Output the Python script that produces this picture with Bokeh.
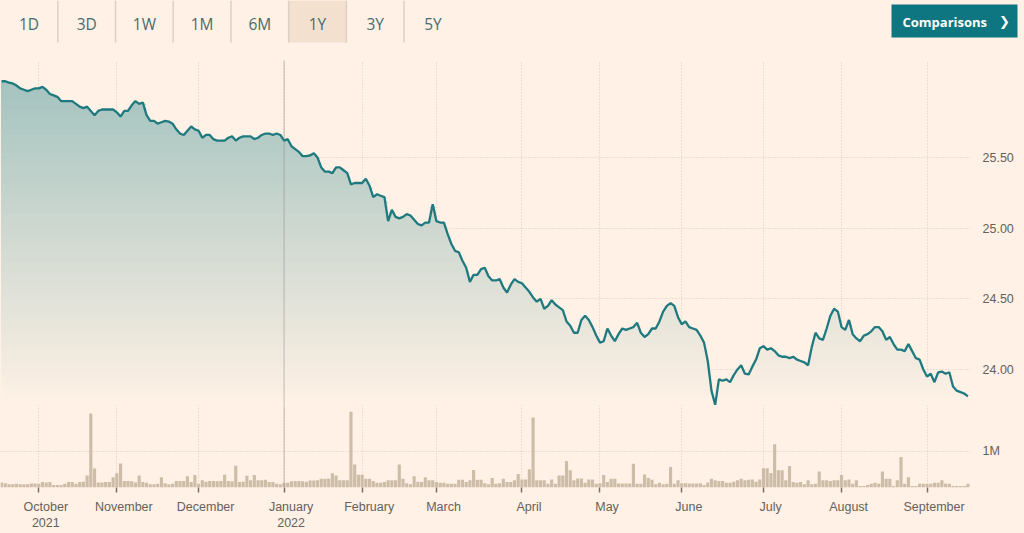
import numpy as np
import pandas as pd
from bokeh.plotting import figure
from bokeh.layouts import column
from bokeh.models import Range1d, FixedTicker, PrintfTickFormatter, Span
from bokeh.core.properties import value
from bokeh.embed import file_html
from bokeh.resources import INLINE

# ---------------- data ----------------
first_day = "2021-09-17"
last_day = "2022-09-16"
dates = pd.bdate_range(first_day, last_day)  # trading days (weekdays)

price = [
    26.04, 26.04, 26.03, 26.025, 26.01, 25.99, 25.98, 25.97, 25.98, 25.99,
    25.99, 26.00, 25.98, 25.95, 25.94, 25.93, 25.90, 25.90, 25.90, 25.90,
    25.88, 25.86, 25.85, 25.86, 25.83, 25.80, 25.83, 25.84, 25.84, 25.84,
    25.84, 25.82, 25.79, 25.83, 25.83, 25.87, 25.90, 25.88, 25.89, 25.80,
    25.76, 25.76, 25.74, 25.75, 25.76, 25.755, 25.74, 25.70, 25.67, 25.66,
    25.69, 25.72, 25.70, 25.69, 25.64, 25.66, 25.66, 25.63, 25.62, 25.62,
    25.62, 25.64, 25.65, 25.62, 25.64, 25.65, 25.65, 25.65, 25.63, 25.64,
    25.66, 25.67, 25.67, 25.66, 25.67, 25.66, 25.62, 25.63, 25.58, 25.56,
    25.54, 25.51, 25.51, 25.515, 25.53, 25.50, 25.43, 25.40, 25.40, 25.39,
    25.43, 25.43, 25.41, 25.39, 25.31, 25.32, 25.32, 25.32, 25.35, 25.30,
    25.22, 25.24, 25.23, 25.22, 25.05, 25.13, 25.08, 25.07, 25.08, 25.10,
    25.09, 25.06, 25.03, 25.02, 25.04, 25.04, 25.17, 25.05, 25.04, 25.04,
    24.96, 24.89, 24.84, 24.83, 24.77, 24.72, 24.62, 24.67, 24.67, 24.71,
    24.72, 24.66, 24.63, 24.63, 24.64, 24.58, 24.545, 24.60, 24.64, 24.62,
    24.61, 24.58, 24.55, 24.51, 24.48, 24.50, 24.43, 24.45, 24.49, 24.46,
    24.44, 24.42, 24.34, 24.31, 24.26, 24.26, 24.35, 24.38, 24.35, 24.30,
    24.24, 24.19, 24.20, 24.29, 24.24, 24.20, 24.25, 24.29, 24.28, 24.29,
    24.30, 24.33, 24.26, 24.23, 24.25, 24.29, 24.29, 24.34, 24.41, 24.45,
    24.47, 24.45, 24.37, 24.32, 24.34, 24.30, 24.29, 24.28, 24.24, 24.19,
    24.06, 23.85, 23.75, 23.93, 23.92, 23.93, 23.91, 23.96, 24.00, 24.03,
    23.97, 23.965, 24.02, 24.07, 24.15, 24.165, 24.14, 24.15, 24.13, 24.10,
    24.09, 24.09, 24.08, 24.09, 24.07, 24.06, 24.05, 24.03, 24.16, 24.26,
    24.22, 24.21, 24.29, 24.38, 24.43, 24.41, 24.30, 24.28, 24.35, 24.25,
    24.22, 24.20, 24.24, 24.25, 24.27, 24.30, 24.30, 24.27, 24.21, 24.23,
    24.18, 24.14, 24.14, 24.13, 24.18, 24.13, 24.08, 24.07, 24.00, 23.95,
    23.97, 23.91, 23.98, 23.985, 23.97, 23.98, 23.88, 23.85, 23.84, 23.83,
    23.81,
]

volume_m = [
    0.14, 0.12, 0.09, 0.09, 0.10, 0.09, 0.09, 0.09, 0.11, 0.11,
    0.10, 0.15, 0.14, 0.15, 0.07, 0.07, 0.07, 0.10, 0.15, 0.15,
    0.10, 0.15, 0.16, 0.33, 2.03, 0.52, 0.14, 0.14, 0.15, 0.15,
    0.28, 0.39, 0.66, 0.18, 0.18, 0.17, 0.14, 0.33, 0.15, 0.13,
    0.09, 0.09, 0.10, 0.28, 0.12, 0.09, 0.10, 0.18, 0.18, 0.18,
    0.31, 0.15, 0.34, 0.10, 0.20, 0.16, 0.18, 0.18, 0.17, 0.18,
    0.35, 0.18, 0.17, 0.60, 0.15, 0.16, 0.32, 0.20, 0.34, 0.20,
    0.20, 0.21, 0.15, 0.15, 0.10, 0.09, 0.13, 0.13, 0.17, 0.18,
    0.18, 0.17, 0.16, 0.19, 0.19, 0.20, 0.24, 0.24, 0.25, 0.39,
    0.33, 0.20, 0.20, 0.20, 2.08, 0.63, 0.35, 0.35, 0.24, 0.24,
    0.18, 0.13, 0.13, 0.15, 0.20, 0.20, 0.20, 0.63, 0.24, 0.12,
    0.09, 0.31, 0.16, 0.15, 0.28, 0.20, 0.20, 0.15, 0.13, 0.13,
    0.10, 0.10, 0.10, 0.21, 0.21, 0.15, 0.20, 0.48, 0.21, 0.21,
    0.12, 0.09, 0.26, 0.10, 0.12, 0.24, 0.15, 0.15, 0.20, 0.37,
    0.22, 0.22, 0.50, 1.92, 0.20, 0.20, 0.20, 0.10, 0.22, 0.10,
    0.33, 0.33, 0.73, 0.47, 0.20, 0.25, 0.25, 0.13, 0.22, 0.22,
    0.10, 0.12, 0.34, 0.15, 0.24, 0.24, 0.11, 0.11, 0.11, 0.11,
    0.65, 0.10, 0.10, 0.36, 0.26, 0.21, 0.09, 0.13, 0.09, 0.10,
    0.56, 0.10, 0.20, 0.12, 0.12, 0.11, 0.11, 0.11, 0.12, 0.07,
    0.14, 0.24, 0.20, 0.18, 0.18, 0.13, 0.13, 0.16, 0.20, 0.24,
    0.20, 0.21, 0.22, 0.16, 0.22, 0.53, 0.53, 0.40, 1.19, 0.47,
    0.47, 0.20, 0.59, 0.15, 0.13, 0.15, 0.09, 0.20, 0.09, 0.10,
    0.44, 0.20, 0.20, 0.18, 0.20, 0.20, 0.34, 0.20, 0.22, 0.10,
    0.20, 0.04, 0.04, 0.07, 0.10, 0.13, 0.10, 0.44, 0.24, 0.24,
    0.04, 0.20, 0.84, 0.10, 0.28, 0.04, 0.04, 0.10, 0.10, 0.10,
    0.10, 0.13, 0.13, 0.20, 0.10, 0.10, 0.04, 0.04, 0.04, 0.04,
    0.10,
]

range_buttons = ["1D", "3D", "1W", "1M", "6M", "1Y", "3Y", "5Y"]
selected_range = "1Y"
button_text = "Comparisons"
price_ticks = [24.0, 24.5, 25.0, 25.5]
volume_ticks = [1]

# ---------------- styles ----------------
BG = "#fff1e5"
TEAL = "#0d7680"
LINE = "#1f7a80"
GRID = "#d6cbc0"
AXIS_TEXT = "#66605c"
FONT = "Liberation Sans"
W = 1024

idx = np.arange(len(dates))
price_arr = np.array(price)
vol_arr = np.array(volume_m)

# month starts (first trading day of each new month)
month_starts, month_labels = [], []
for i in range(1, len(dates)):
    if dates[i].month != dates[i - 1].month:
        month_starts.append(i)
        lab = dates[i].strftime("%B")
        if len(month_starts) == 1 or dates[i].month == 1:
            lab += "\n" + str(dates[i].year)
        month_labels.append(lab)
LABEL_SHIFT = 1.9  # label starts a little right of its tick
label_pos = [m + LABEL_SHIFT for m in month_starts]
year_start = [m for m in month_starts if dates[m].month == 1][0]

x_range = Range1d(-0.3, len(dates) - 0.3)


def style_common(p):
    p.background_fill_color = BG
    p.border_fill_color = BG
    p.outline_line_color = None
    p.toolbar.logo = None


# ---------------- header (separate root so its frame spans the full width) ----------------
hdr = figure(width=W, height=50, x_range=Range1d(0, W), y_range=Range1d(50, 0),
             output_backend="svg", toolbar_location=None, min_border=0,
             x_axis_location=None, y_axis_location=None)
style_common(hdr)
hdr.xgrid.visible = False
hdr.ygrid.visible = False
bw = 57.7
centers = [28.5 + bw * k for k in range(len(range_buttons))]
sel = range_buttons.index(selected_range)
hdr.quad(left=centers[sel] - bw / 2, right=centers[sel] + bw / 2, top=0, bottom=42,
         fill_color="#f3e0cf", line_color=None)
seps = [centers[k] + bw / 2 for k in range(len(range_buttons) - 1)]
hdr.segment(x0=seps, y0=[0] * len(seps), x1=seps, y1=[42] * len(seps),
            line_color="#ddd0c4", line_width=1.5)
hdr.text(x=centers, y=[23] * len(centers), text=range_buttons,
         text_align="center", text_baseline="middle",
         text_font=value("Open Sans"), text_font_size="15.5px", text_color="#4a6a70")
hdr.quad(left=891, right=1017, top=4, bottom=37, fill_color=TEAL, line_color=None)
hdr.text(x=[902], y=[21], text=[button_text], text_align="left", text_baseline="middle",
         text_font=value("Open Sans"), text_font_style="bold", text_font_size="13px",
         text_color="white")
hdr.text(x=[1004], y=[21], text=["❯"], text_align="center", text_baseline="middle",
         text_font=value("DejaVu Sans"), text_font_style="bold", text_font_size="13px",
         text_color="white")

# ---------------- price panel ----------------
p_lo, p_hi = 23.745, 26.187
pp = figure(width=W, height=355, x_range=x_range, y_range=Range1d(p_lo, p_hi),
            output_backend="svg", toolbar_location=None,
            x_axis_location=None, y_axis_location="right",
            min_border_top=10, min_border_bottom=0, min_border_left=0, min_border_right=54)
style_common(pp)

# vertical gradient under the line (bands, lower bands overdrawn by upper ones)
n_bands = 70
step = (p_hi - p_lo) / n_bands
teal_rgb = np.array([13, 118, 128])
bg_rgb = np.array([255, 241, 229])
for k in range(n_bands):
    lo = p_lo + k * step
    if lo > price_arr.max():
        break
    a = 0.40 * (lo + step / 2 - p_lo) / (p_hi - p_lo)
    c = bg_rgb * (1 - a) + teal_rgb * a
    col = "#%02x%02x%02x" % tuple(int(round(v)) for v in c)
    pp.varea(x=idx, y1=lo, y2=np.maximum(price_arr, lo), fill_color=col)

pp.line(idx, price_arr, line_color=LINE, line_width=2.3)

pp.xgrid.ticker = FixedTicker(ticks=month_starts)
pp.xgrid.grid_line_color = GRID
pp.xgrid.grid_line_dash = "1 2"
pp.ygrid.grid_line_color = GRID
pp.ygrid.grid_line_dash = "1 2"
pp.yaxis.ticker = FixedTicker(ticks=price_ticks)
pp.yaxis.formatter = PrintfTickFormatter(format="%.2f")
pp.yaxis.axis_line_color = None
pp.yaxis.major_tick_line_color = None
pp.yaxis.minor_tick_line_color = None
pp.yaxis.major_label_standoff = 6
pp.yaxis.major_label_text_font = FONT
pp.yaxis.major_label_text_font_size = "12.5px"
pp.yaxis.major_label_text_color = AXIS_TEXT
pp.add_layout(Span(location=year_start, dimension="height", line_color="#8c857f",
                   line_dash="1 1", line_width=1))

# ---------------- volume panel ----------------
vp = figure(width=W, height=128, x_range=x_range, y_range=Range1d(0, 2.25),
            output_backend="svg", toolbar_location=None,
            y_axis_location="right",
            min_border_top=0, min_border_bottom=41, min_border_left=0, min_border_right=54)
style_common(vp)
vp.vbar(x=idx, top=vol_arr, width=0.85, fill_color="#cdbda8", line_color=None)
vp.xgrid.ticker = FixedTicker(ticks=month_starts)
vp.xgrid.grid_line_color = GRID
vp.xgrid.grid_line_dash = "1 2"
vp.ygrid.grid_line_color = GRID
vp.ygrid.grid_line_dash = "1 2"
vp.yaxis.ticker = FixedTicker(ticks=volume_ticks)
vp.yaxis.formatter = PrintfTickFormatter(format="%dM")
vp.yaxis.axis_line_color = None
vp.yaxis.major_tick_line_color = None
vp.yaxis.minor_tick_line_color = None
vp.yaxis.major_label_standoff = 6
vp.yaxis.major_label_text_font = FONT
vp.yaxis.major_label_text_font_size = "12.5px"
vp.yaxis.major_label_text_color = AXIS_TEXT

vp.xaxis.ticker = FixedTicker(ticks=label_pos, minor_ticks=month_starts)
vp.xaxis.major_label_overrides = {pos: lab for pos, lab in zip(label_pos, month_labels)}
vp.xaxis.major_label_text_align = "left"
vp.xaxis.axis_line_color = None
vp.xaxis.major_tick_line_color = None
vp.xaxis.major_tick_out = 0
vp.xaxis.major_tick_in = 0
vp.xaxis.minor_tick_line_color = "#77706a"
vp.xaxis.minor_tick_line_width = 1.5
vp.xaxis.minor_tick_out = 5
vp.xaxis.minor_tick_in = 0
vp.xaxis.major_label_standoff = 7
vp.xaxis.major_label_text_font = FONT
vp.xaxis.major_label_text_font_size = "12.5px"
vp.xaxis.major_label_text_color = AXIS_TEXT
vp.add_layout(Span(location=year_start, dimension="height", line_color="#8c857f",
                   line_dash="1 1", line_width=1))

chart = column(pp, vp, spacing=0)
html = file_html([hdr, chart], INLINE)
html = html.replace("<body>", '<body style="margin:0;background:%s;">' % BG, 1)
html = html.replace("<html", '<html style="background:%s;"' % BG, 1)
open("out.html", "w").write(html)
